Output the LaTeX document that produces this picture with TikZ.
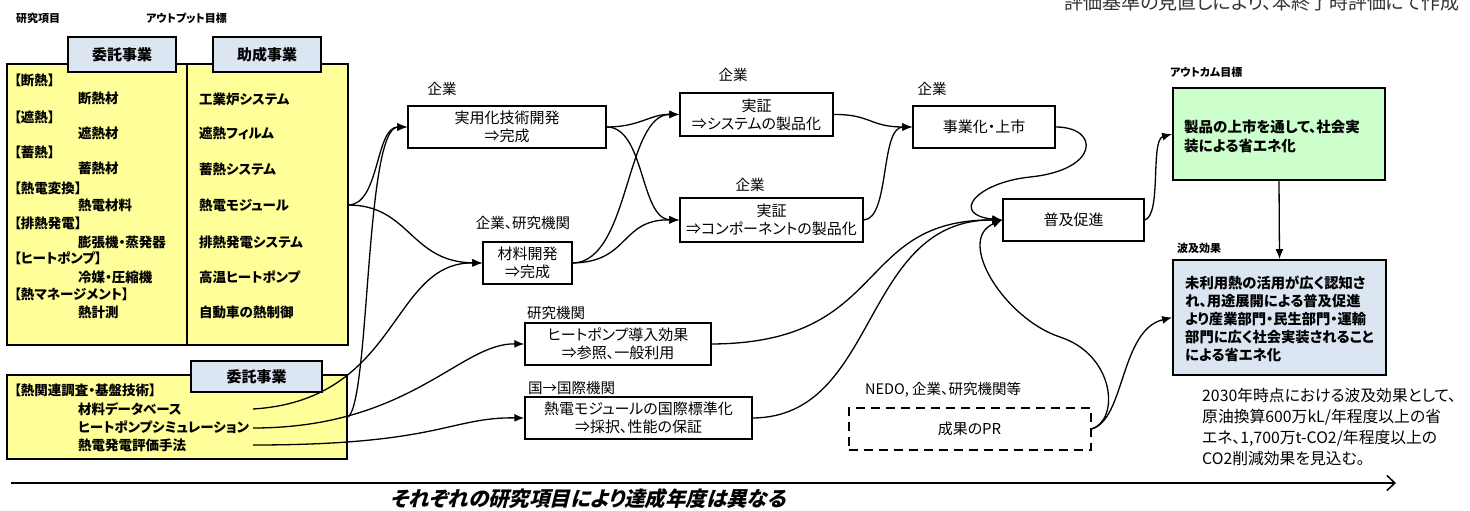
\documentclass[tikz,border=0pt]{standalone}
\usepackage{fontspec}
\setmainfont{Noto Sans CJK JP}[RawFeature=+palt]
\newfontfamily\jpslant{Noto Sans CJK JP}[RawFeature=+palt, FakeSlant=0.25, BoldFeatures={FakeSlant=0.25}]
\usetikzlibrary{arrows.meta}
\definecolor{yel}{HTML}{FFFF99}
\definecolor{tabblue}{HTML}{DCE6F2}
\definecolor{grn}{HTML}{CCFFCC}
\tikzset{
  box/.style={draw, line width=1.4pt, fill=white, align=center, inner sep=0pt, font=\fontsize{15}{18}\selectfont},
  tabbox/.style={draw, line width=1.6pt, fill=tabblue, inner sep=0pt, font=\bfseries\fontsize{15}{17}\selectfont},
  lab/.style={inner sep=0pt, font=\fontsize{14.5}{16}\selectfont},
  slab/.style={inner sep=0pt, anchor=west, font=\bfseries\fontsize{11}{13}\selectfont},
  btxt/.style={inner sep=0pt, anchor=west, font=\bfseries\fontsize{13.5}{15}\selectfont},
  conn/.style={line width=1.3pt, -{Latex[length=10pt,width=8pt]}},
}
\begin{document}
\begin{tikzpicture}[x=1pt,y=-1pt]
\useasboundingbox (0,0) rectangle (1470,511);

% top labels
\node[slab] (hdA) at (16,18) {研究項目};
\node[slab] (hdB) at (146,18) {アウトプット目標};
\node[anchor=base east, inner sep=0pt, text=black!80, font=\fontsize{19}{20}\selectfont] (note) at (1460,10) {評価基準の見直しにより、本終了時評価にて作成};

% big left box
\node[draw, line width=2.2pt, fill=yel, minimum width=341, minimum height=281, inner sep=0pt] (outbox) at (177.5,204.5) {};
\draw[line width=1.4pt] (187,64) -- (187,345);
\node[tabbox, minimum width=108, minimum height=35] (tab1) at (122,54.5) {委託事業};
\node[tabbox, minimum width=108, minimum height=35] (tab2) at (267,54.5) {助成事業};

\node[btxt] (l1) at (14,80) {【断熱】};
\node[btxt] (l2) at (78,98) {断熱材};
\node[btxt] (l3) at (14,117) {【遮熱】};
\node[btxt] (l4) at (78,133) {遮熱材};
\node[btxt] (l5) at (14,152) {【蓄熱】};
\node[btxt] (l6) at (78,168) {蓄熱材};
\node[btxt] (l7) at (14,188) {【熱電変換】};
\node[btxt] (l8) at (78,205) {熱電材料};
\node[btxt] (l9) at (14,223) {【排熱発電】};
\node[btxt] (l10) at (78,242) {膨張機・蒸発器};
\node[btxt] (l11) at (14,258) {【ヒートポンプ】};
\node[btxt] (l12) at (78,277) {冷媒・圧縮機};
\node[btxt] (l13) at (14,294) {【熱マネージメント】};
\node[btxt] (l14) at (78,312) {熱計測};

\node[btxt] (r1) at (199,99) {工業炉システム};
\node[btxt] (r2) at (199,133) {遮熱フィルム};
\node[btxt] (r3) at (199,169) {蓄熱システム};
\node[btxt] (r4) at (199,205) {熱電モジュール};
\node[btxt] (r5) at (199,242) {排熱発電システム};
\node[btxt] (r6) at (199,277) {高温ヒートポンプ};
\node[btxt] (r7) at (199,312) {自動車の熱制御};

% bottom left box
\node[draw, line width=2.2pt, fill=yel, minimum width=340, minimum height=84, inner sep=0pt] (basebox) at (177,417) {};
\node[tabbox, minimum width=131, minimum height=31] (tab3) at (256.5,376.5) {委託事業};
\node[btxt] (b1) at (14,390) {【熱関連調査・基盤技術】};
\node[btxt] (b2) at (78,409) {材料データベース};
\node[btxt] (b3) at (78,427) {ヒートポンプシミュレーション};
\node[btxt] (b4) at (78,445) {熱電発電評価手法};

% middle boxes
\node[box, minimum width=198, minimum height=42] (impl) at (507,127) {実用化技術開発\\⇒完成};
\node[lab] (implL) at (442,89) {企業};
\node[box, minimum width=89, minimum height=42] (mat) at (527.5,263) {材料開発\\⇒完成};
\node[lab] (matL) at (523,223) {企業、研究機関};
\node[box, minimum width=153, minimum height=43] (sys) at (756.5,114.5) {実証\\⇒システムの製品化};
\node[lab] (sysL) at (733,75) {企業};
\node[box, minimum width=183, minimum height=44] (comp) at (771.5,220) {実証\\⇒コンポーネントの製品化};
\node[lab] (compL) at (750,185) {企業};
\node[box, minimum width=142, minimum height=42] (biz) at (984,127) {事業化・上市};
\node[lab] (bizL) at (932,89) {企業};
\node[box, minimum width=141, minimum height=42] (prom) at (1073.5,220) {普及促進};
\node[box, minimum width=186, minimum height=42] (hp) at (618,344) {ヒートポンプ導入効果\\⇒参照、一般利用};
\node[lab, anchor=west] (hpL) at (527,313) {研究機関};
\node[box, minimum width=227, minimum height=42] (std) at (638.5,418) {熱電モジュールの国際標準化\\⇒採択、性能の保証};
\node[lab, anchor=west] (stdL) at (528,388) {国→国際機関};
\node[box, dashed, dash pattern=on 9pt off 6pt, line width=2pt, minimum width=242, minimum height=42] (pr) at (969.5,429) {成果のPR};
\node[lab, anchor=west] (prL) at (865,390) {NEDO, 企業、研究機関等};

% outcome boxes
\node[slab] (grnL) at (1170,72) {アウトカム目標};
\node[draw, line width=1.8pt, fill=grn, minimum width=212, minimum height=92, inner sep=0pt] (green) at (1279,134) {};
\node[btxt, align=left, font=\bfseries\fontsize{14.5}{19}\selectfont] (greentxt) at (1184,136) {製品の上市を通して、社会実\\装による省エネ化};
\node[slab] (bluL) at (1177,248) {波及効果};
\node[draw, line width=1.8pt, fill=tabblue, minimum width=213, minimum height=115, inner sep=0pt] (blue) at (1279.5,317.5) {};
\node[btxt, align=left, font=\bfseries\fontsize{14.3}{18}\selectfont] (bluetxt) at (1185,319) {未利用熱の活用が広く認知さ\\れ、用途展開による普及促進\\より産業部門・民生部門・運輸\\部門に広く社会実装されること\\による省エネ化};
\node[inner sep=0pt, anchor=west, align=left, font=\fontsize{15.8}{21}\selectfont] (effect) at (1202,426.5) {2030年時点における波及効果として、\\原油換算600万kL/年程度以上の省\\エネ、1,700万t-CO2/年程度以上の\\CO2削減効果を見込む。};

% connector start points
\coordinate (lbx) at (348,205);
\coordinate (dbs) at (253,409);
\coordinate (hpss) at (253,428);
\coordinate (tees) at (253,445);

% connectors
\draw[conn] (lbx) .. controls (380,205) and (375,127) .. (impl.west);
\draw[conn] (lbx) .. controls (410,205) and (410,262) .. (mat.west);
\draw[conn] (dbs) .. controls (400,400) and (390,262) .. (mat.west);
\draw[conn] (basebox.east) .. controls (370,400) and (365,127) .. (impl.west);
\draw[conn] (hpss) .. controls (410,428) and (460,343) .. (hp.west);
\draw[conn] (tees) .. controls (440,445) and (450,417) .. (std.west);

\draw[conn] (impl.east) .. controls (640,127) and (650,114) .. (sys.west);
\draw[conn] (impl.east) .. controls (645,127) and (640,219) .. (comp.west);
\draw[conn] (mat.east) .. controls (630,262) and (625,114) .. (sys.west);
\draw[conn] (mat.east) .. controls (630,262) and (620,219) .. (comp.west);

\draw[conn] (sys.east) .. controls (870,114) and (870,127) .. (biz.west);
\draw[conn] (comp.east) .. controls (890,219) and (880,127) .. (biz.west);

\draw[conn] (biz.east) .. controls (1100,127) and (1100,170) .. (1030,177) .. controls (975,183) and (950,215) .. (prom.west);
\draw[conn] (hp.east) .. controls (891,343) and (853,219) .. (prom.west);
\draw[conn] (std.east) .. controls (880,417) and (860,219) .. (prom.west);
\draw[conn] (pr.east) .. controls (1120,420) and (1115,355) .. (1060,337) .. controls (1005,319) and (955,240) .. (prom.west);
\draw[conn] (pr.east) .. controls (1125,420) and (1120,330) .. (blue.west);
\draw[conn] (prom.east) .. controls (1162,215) and (1150,140) .. (green.west);
\draw[conn] (green.south) -- (blue.north);

% timeline
\coordinate (tl0) at (11,483);
\coordinate (tl1) at (1396,483);
\draw[line width=2.6pt, -{Straight Barb[length=8pt,width=15pt,line width=1.5pt]}] (tl0) -- (tl1);
\node[inner sep=0pt, font=\jpslant\bfseries\fontsize{20.5}{22}\selectfont] (tltxt) at (588,499) {それぞれの研究項目により達成年度は異なる};
\end{tikzpicture}
\end{document}
